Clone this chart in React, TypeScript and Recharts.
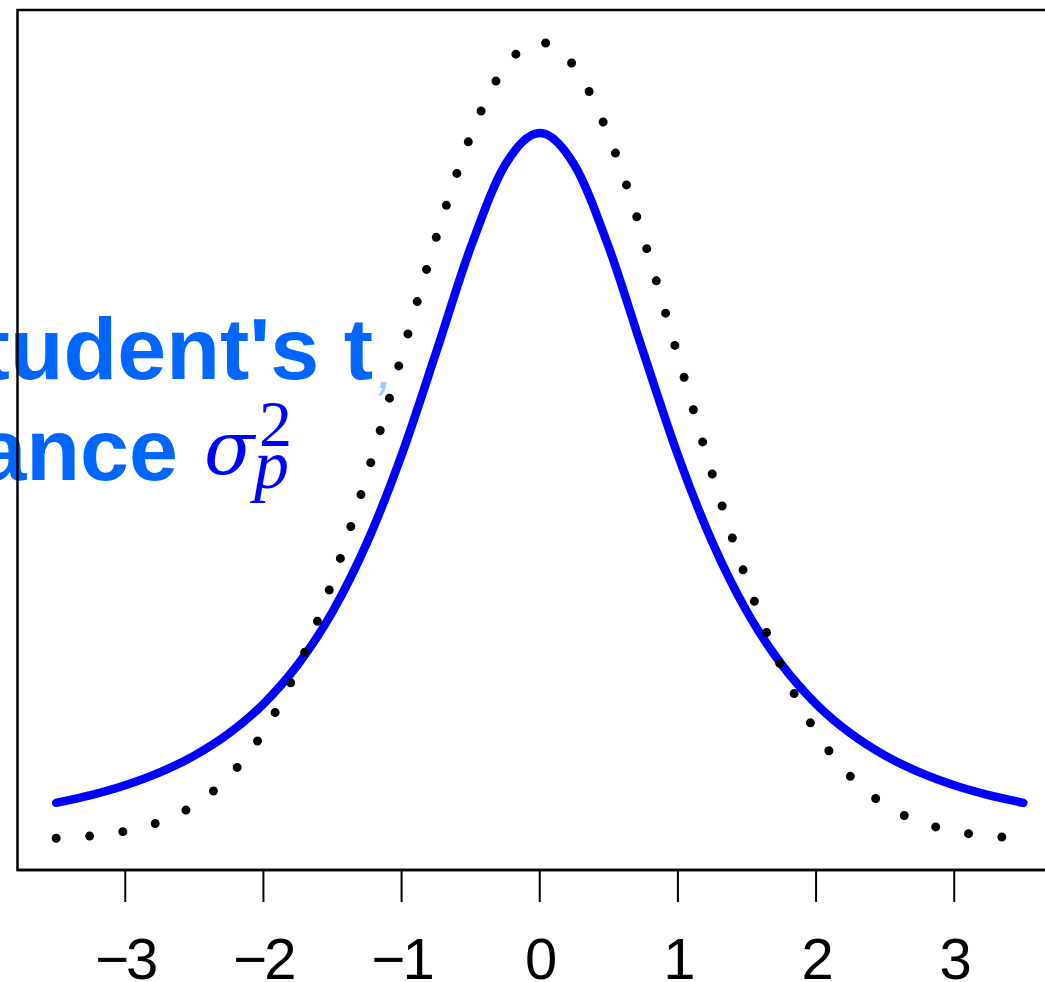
import { LineChart, Line, XAxis, YAxis, ReferenceArea, Customized } from 'recharts'

// x grid shared by both curves
const xs = [
  -3.5, -3.25, -3, -2.75, -2.5, -2.25, -2, -1.75, -1.5, -1.25, -1, -0.75, -0.5, -0.25, 0,
  0.25, 0.5, 0.75, 1, 1.25, 1.5, 1.75, 2, 2.25, 2.5, 2.75, 3, 3.25, 3.5,
]

// dotted reference curve (standard normal density)
const normalDensity = [
  0.00087, 0.002, 0.0044, 0.0091, 0.0175, 0.0317, 0.054, 0.0863, 0.1295, 0.1826, 0.242,
  0.3011, 0.3521, 0.3867, 0.3989, 0.3867, 0.3521, 0.3011, 0.242, 0.1826, 0.1295, 0.0863,
  0.054, 0.0317, 0.0175, 0.0091, 0.0044, 0.002, 0.00087,
]

// heavy-tailed blue curve
const tDensity = [
  0.01859, 0.02246, 0.02741, 0.03382, 0.0422, 0.05328, 0.06804, 0.08779, 0.11413, 0.14872,
  0.19245, 0.24378, 0.2963, 0.33761, 0.35355, 0.33761, 0.2963, 0.24378, 0.19245, 0.14872,
  0.11413, 0.08779, 0.06804, 0.05328, 0.0422, 0.03382, 0.02741, 0.02246, 0.01859,
]

const xTicks = [-3, -2, -1, 0, 1, 2, 3]

const X_DOMAIN: [number, number] = [-3.78, 3.78]
const Y_DOMAIN: [number, number] = [-0.015, 0.415]

const data = xs.map((x, i) => ({ x, normal: normalDensity[i], t: tDensity[i] }))

const fmt = (v: number) => (v < 0 ? `\u2212${Math.abs(v)}` : `${v}`)

function Annotation() {
  const sans = '"Liberation Sans", Arial, Helvetica, sans-serif'
  const serif = '"Liberation Serif", "Times New Roman", serif'
  return (
    <g>
      <text x={373} y={379} textAnchor="end" fontFamily={sans} fontWeight="bold" fontSize={88} fill="#0066FF">
        Student's t
      </text>
      <text x={377} y={388} fontFamily={sans} fontStyle="italic" fontSize={60} fill="#4d94ff" opacity={0.5}>
        ,
      </text>
      <text x={178} y={480} textAnchor="end" fontFamily={sans} fontWeight="bold" fontSize={88} fill="#0066FF">
        Variance
      </text>
      <text x={204} y={474} fontFamily={'"DejaVu Serif", serif'} fontStyle="italic" fontSize={74} fill="#0000FF">
        σ
      </text>
      <text x={259} y={446} fontFamily={serif} fontSize={66} fill="#0000FF">
        2
      </text>
      <text x={254} y={488} fontFamily={serif} fontStyle="italic" fontSize={70} fill="#0000FF">
        p
      </text>
    </g>
  )
}

export default function App() {
  return (
    <div
      style={{
        position: 'fixed',
        left: 0,
        top: 0,
        width: 1045,
        height: 982,
        overflow: 'hidden',
        background: '#fff',
      }}
    >
      <LineChart
        width={1100}
        height={982}
        data={data}
        margin={{ top: 10, right: 38, left: 17.5, bottom: 0 }}
      >
        <XAxis
          dataKey="x"
          type="number"
          domain={X_DOMAIN}
          ticks={xTicks}
          allowDataOverflow
          height={112}
          tickSize={32}
          tickMargin={36}
          tickFormatter={fmt}
          axisLine={{ stroke: '#000', strokeWidth: 2.5 }}
          tickLine={{ stroke: '#000', strokeWidth: 2 }}
          tick={{
            fill: '#000',
            fontSize: 58,
            letterSpacing: -3,
            fontFamily: '"Liberation Sans", Arial, sans-serif',
          }}
        />
        <YAxis type="number" domain={Y_DOMAIN} allowDataOverflow hide width={0} />
        <ReferenceArea
          x1={X_DOMAIN[0]}
          x2={X_DOMAIN[1]}
          y1={Y_DOMAIN[0]}
          y2={Y_DOMAIN[1]}
          ifOverflow="visible"
          fill="none"
          fillOpacity={0}
          stroke="#000"
          strokeWidth={2.5}
        />
        <Line
          type="monotone"
          dataKey="t"
          stroke="#0000FF"
          strokeWidth={8.5}
          strokeLinecap="round"
          dot={false}
          activeDot={false}
          isAnimationActive={false}
        />
        <Line
          type="monotone"
          dataKey="normal"
          stroke="#000"
          strokeWidth={9}
          strokeLinecap="round"
          strokeDasharray="0 33.5"
          dot={false}
          activeDot={false}
          isAnimationActive={false}
        />
        <Customized component={<Annotation />} />
      </LineChart>
    </div>
  )
}
